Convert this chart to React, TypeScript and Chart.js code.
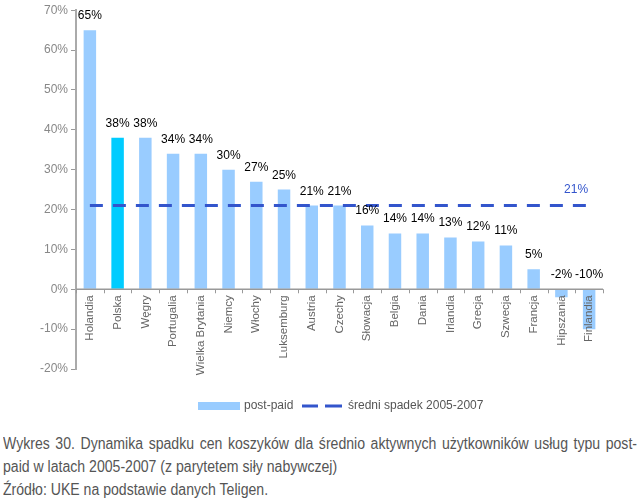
import React, { useEffect, useRef } from "react";
import { Chart, registerables } from "chart.js";

Chart.register(...registerables);

const categories = [
  "Holandia", "Polska", "Węgry", "Portugalia", "Wielka Brytania", "Niemcy", "Włochy",
  "Luksemburg", "Austria", "Czechy", "Słowacja", "Belgia", "Dania", "Irlandia",
  "Grecja", "Szwecja", "Francja", "Hipszania", "Finlandia",
];
const postPaid = [65, 38, 38, 34, 34, 30, 27, 25, 21, 21, 16, 14, 14, 13, 12, 11, 5, -2, -10];
const averageDrop = 21;
const highlighted = "Polska";
const yTicks = { min: -20, max: 70, step: 10 };
const legendLabels = ["post-paid", "średni spadek 2005-2007"];
const captionLines = [
  "Wykres 30. Dynamika spadku cen koszyków dla średnio aktywnych użytkowników usług typu post-",
  "paid w latach 2005-2007 (z parytetem siły nabywczej)",
  "Źródło: UKE na podstawie danych Teligen.",
];

const BAR = "#99CCFF";
const BAR_HL = "#00CCFF";
const DASH = "#3355CC";
const SANS = "'Liberation Sans', Arial, sans-serif";

const overlay = {
  id: "overlay",
  afterDatasetsDraw(chart: any) {
    const ctx = chart.ctx;
    const x = chart.scales.x;
    const y = chart.scales.y;
    const area = chart.chartArea;
    const y0 = y.getPixelForValue(0);
    ctx.save();
    // zero axis line
    ctx.strokeStyle = "#999";
    ctx.lineWidth = 1.5;
    ctx.beginPath();
    ctx.moveTo(area.left, y0);
    ctx.lineTo(area.right, y0);
    ctx.stroke();
    // ticks between categories
    const n = categories.length;
    const w = (area.right - area.left) / n;
    ctx.lineWidth = 1;
    for (let i = 0; i <= n; i++) {
      const px = Math.round(area.left + i * w) + 0.5;
      ctx.beginPath();
      ctx.moveTo(px, y0);
      ctx.lineTo(px, y0 + 4);
      ctx.stroke();
    }
    // value labels
    ctx.fillStyle = "#000";
    ctx.font = "12px " + SANS;
    ctx.textAlign = "center";
    ctx.textBaseline = "alphabetic";
    postPaid.forEach((v, i) => {
      const cx = x.getPixelForValue(i);
      const top = v >= 0 ? y.getPixelForValue(v) : y0;
      ctx.fillText(v + "%", cx, top - 11);
    });
    // category labels
    ctx.fillStyle = "#666";
    ctx.font = "11.5px " + SANS;
    categories.forEach((c, i) => {
      const cx = x.getPixelForValue(i);
      ctx.save();
      ctx.translate(cx, y0 + 6);
      ctx.rotate(-Math.PI / 2);
      ctx.textAlign = "right";
      ctx.textBaseline = "middle";
      ctx.fillText(c, 0, 0);
      ctx.restore();
    });
    // average label
    const lastX = x.getPixelForValue(n - 1);
    ctx.fillStyle = DASH;
    ctx.font = "12px " + SANS;
    ctx.textAlign = "center";
    ctx.fillText(averageDrop + "%", lastX - 13, y.getPixelForValue(averageDrop) - 13);
    // legend
    const ly = 406;
    ctx.fillStyle = BAR;
    ctx.fillRect(198, ly - 4, 42, 8);
    ctx.fillStyle = "#555";
    ctx.font = "12px " + SANS;
    ctx.textAlign = "left";
    ctx.textBaseline = "middle";
    ctx.fillText(legendLabels[0], 244, ly);
    ctx.strokeStyle = DASH;
    ctx.lineWidth = 3;
    ctx.beginPath();
    ctx.moveTo(302, ly);
    ctx.lineTo(318, ly);
    ctx.moveTo(325, ly);
    ctx.lineTo(342, ly);
    ctx.stroke();
    ctx.fillText(legendLabels[1], 348, ly);
    ctx.restore();
  },
};

export default function App() {
  const ref = useRef<HTMLCanvasElement>(null);
  useEffect(() => {
    document.body.style.margin = "0";
    const chart = new Chart(ref.current!, {
      type: "bar",
      data: {
        labels: categories,
        datasets: [
          {
            type: "line",
            label: legendLabels[1],
            data: categories.map(() => averageDrop),
            borderColor: DASH,
            borderWidth: 3,
            borderDash: [13, 10],
            pointRadius: 0,
            fill: false,
            order: 0,
          } as any,
          {
            type: "bar",
            label: legendLabels[0],
            data: postPaid,
            backgroundColor: categories.map((c) => (c === highlighted ? BAR_HL : BAR)),
            barPercentage: 0.9,
            categoryPercentage: 0.5,
            order: 1,
          },
        ],
      },
      options: {
        responsive: false,
        animation: false,
        layout: { padding: { left: 8, right: 37, top: 9, bottom: 51 } },
        plugins: { legend: { display: false }, tooltip: { enabled: false } },
        scales: {
          x: { display: false, offset: true },
          y: {
            min: yTicks.min,
            max: yTicks.max,
            afterFit: (s: any) => {
              s.width = 68;
            },
            ticks: {
              stepSize: yTicks.step,
              color: "#888",
              padding: 3,
              font: { family: SANS, size: 12 },
              callback: (v: any) => v + "%",
            },
            grid: { drawOnChartArea: false, tickLength: 5, color: "#999" },
            border: { color: "#aaa", width: 2 },
          },
        },
      },
      plugins: [overlay],
    });
    return () => chart.destroy();
  }, []);
  const scale = 0.88;
  return (
    <div style={{ position: "relative", width: 640, height: 502, background: "#fff", overflow: "hidden" }}>
      <canvas ref={ref} width={640} height={420} style={{ position: "absolute", left: 0, top: 0 }} />
      <div
        style={{
          position: "absolute",
          left: 3,
          top: 432,
          width: 634 / scale,
          transform: `scaleX(${scale})`,
          transformOrigin: "left top",
          fontFamily: SANS,
          fontSize: 16,
          lineHeight: "23px",
          color: "#555",
          whiteSpace: "nowrap",
        }}
      >
        {captionLines.map((l, i) => (
          <div
            key={i}
            style={
              i === 0
                ? { textAlign: "justify", textAlignLast: "justify", whiteSpace: "normal" }
                : undefined
            }
          >
            {l}
          </div>
        ))}
      </div>
    </div>
  );
}
